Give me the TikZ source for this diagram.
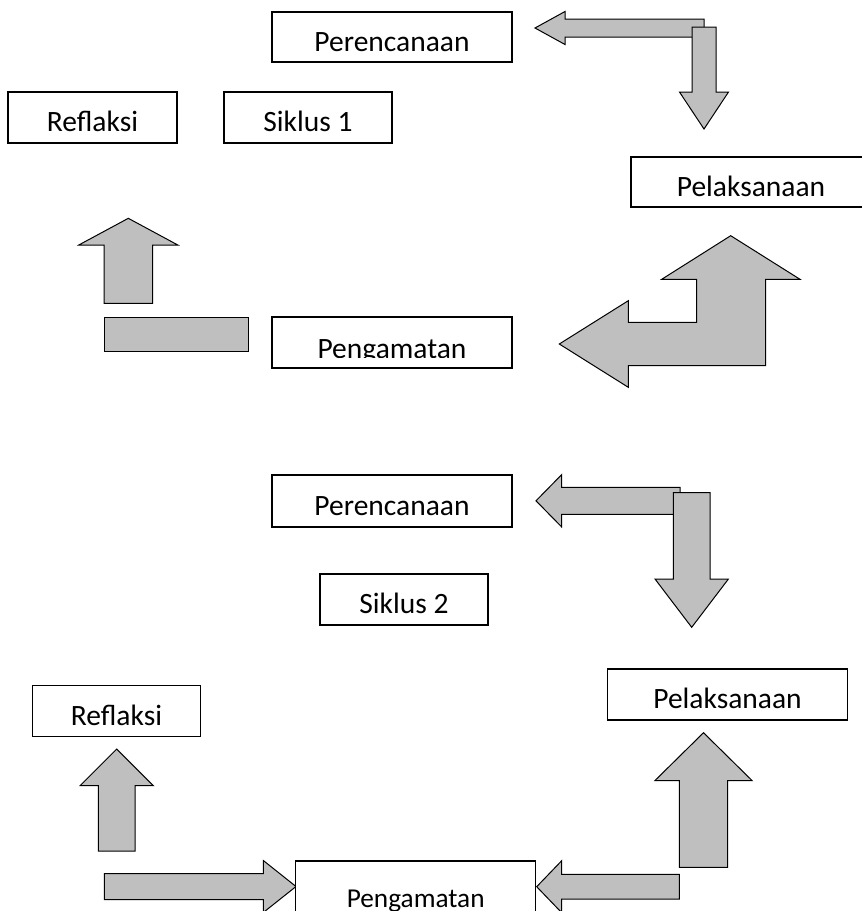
\documentclass[tikz,border=0pt]{standalone}
\usepackage{fontspec}
\setmainfont{Carlito}
\usepackage{tikz}
\usetikzlibrary{calc}
\definecolor{blockgray}{RGB}{191,191,191}
\tikzset{
  %% Text box
  cbox/.style={
    rectangle, draw=black, fill=white,
    minimum width=240pt, minimum height=51pt,
    inner sep=0pt, text height=28pt, text depth=0pt,
    font=\fontsize{29.5}{34}\selectfont,
    line width=1.3pt
  },
  %% Block arrow
  barr/.style={draw=black, fill=blockgray, line width=1pt,
               line join=miter},
}

\begin{document}
\begin{tikzpicture}[x=1pt, y=-1pt]

  \useasboundingbox (0,0) rectangle (862,911);
  \clip (0,0) rectangle (862,911);

  %% Siklus 1
  \node[cbox, minimum height=50pt] (per1) at (392,37) {Perencanaan};
  \node[cbox, minimum width=169pt] (ref1) at (92.5,117.5) {Reflaksi};
  \node[cbox, minimum width=168pt] (sik1) at (308,117.5) {Siklus 1};
  \node[cbox, minimum height=50pt] (pel1) at (751,182) {Pelaksanaan};
  \node[cbox] (pen1) at (392,342.5) {};
  \begin{scope}
    \clip (pen1.north west) rectangle ([yshift=11pt]pen1.south east);
    \node[cbox, draw=none, fill=none, text height=31pt] (pen1txt)
          at (pen1) {Pengamatan};
  \end{scope}

  %% Siklus 2
  \node[cbox, minimum height=52pt] (per2) at (392,501) {Perencanaan};
  \node[cbox, minimum width=168pt] (sik2) at (404,599.5) {Siklus 2};
  \node[cbox] (pel2) at (727.5,694.5) {Pelaksanaan};
  \node[cbox, minimum width=168.5pt] (ref2) at (116.5,711.3) {Reflaksi};

  %% Block arrows: tail x / tail y / angle / length / shaft / head / head length
  \foreach \tx/\ty/\ang/\len/\sh/\hh/\hl in {
      704/28/180/169/9/16.5/30,       704/27/270/102/12/24.5/37,
      128.3/303.3/90/85/24.3/49.5/26.7,
      680/500.8/180/144/13.5/26.2/25.7, 691.7/492.7/270/134.6/18.3/36.7/48.3,
      703.5/867.3/90/134.6/24.2/48.7/48, 679.3/886.7/180/142.6/12.3/26/25,
      116.7/851/90/102/18.3/36.7/36.7,  104.3/886.5/0/191.7/13/26/32.7}
    \draw[barr, shift={(\tx,\ty)}, rotate=\ang]
      (0,-\sh) -- (\len-\hl,-\sh) -- (\len-\hl,-\hh) -- (\len,0)
      -- (\len-\hl,\hh) -- (\len-\hl,\sh) -- (0,\sh) -- cycle;

  %% Bar beside Pengamatan
  \draw[barr] (104,317.3) rectangle (248.3,351.7);

  %% Bent arrow
  \draw[barr] (730.7,235.7) -- (800,279.3) -- (765.7,279.3)
      -- (765.7,365.7) -- (628.3,365.7) -- (628.3,387.3) -- (559.3,344)
      -- (628.3,300.7) -- (628.3,322.3) -- (696.7,322.3)
      -- (696.7,279.3) -- (661.7,279.3) -- cycle;

  %% Pengamatan 2
  \node[cbox, text height=41pt, font=\fontsize{27.3}{32}\selectfont]
        (pen2) at (415.7,886.5) {Pengamatan};

\end{tikzpicture}
\end{document}
